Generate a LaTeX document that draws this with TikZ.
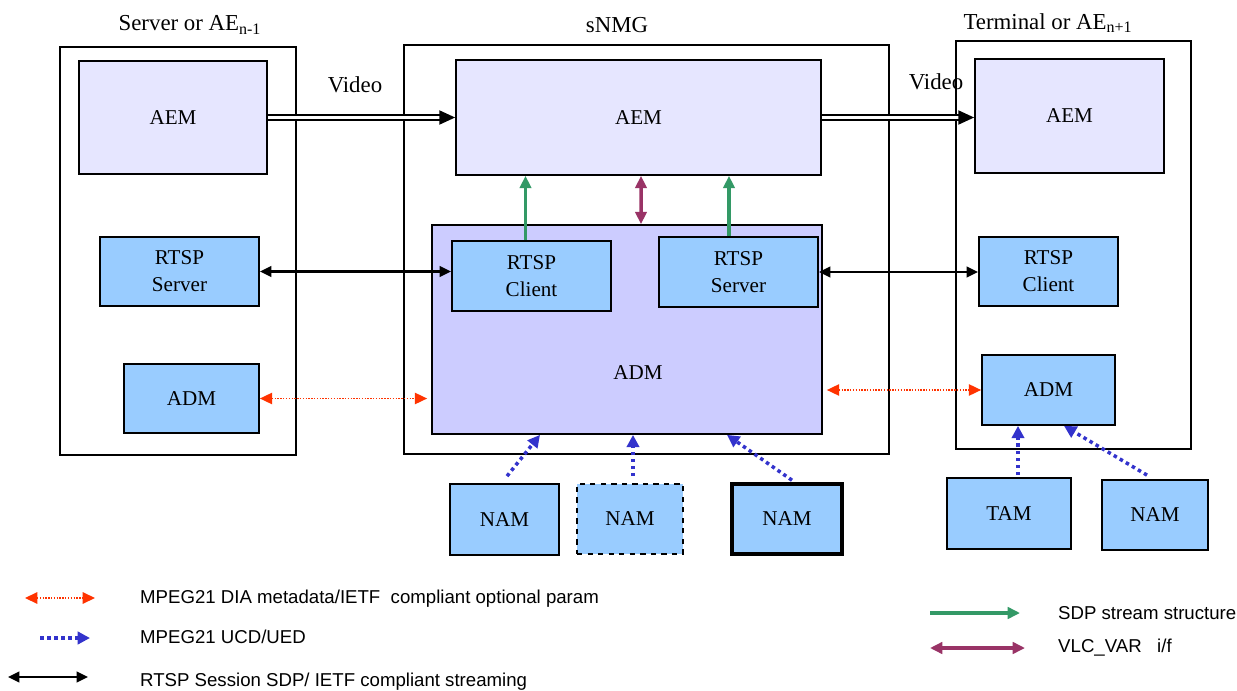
\documentclass[tikz,border=0pt]{standalone}
\usepackage{fontspec}
\setmainfont{Liberation Serif}
\setsansfont{Liberation Sans}
\usetikzlibrary{arrows.meta,calc}

\definecolor{aemfill}{RGB}{230,230,255}
\definecolor{admfill}{RGB}{204,204,255}
\definecolor{boxblue}{RGB}{153,204,255}
\definecolor{sdpgreen}{RGB}{51,153,102}
\definecolor{vlcpurple}{RGB}{153,51,102}
\definecolor{diared}{RGB}{255,51,0}
\definecolor{ucdblue}{RGB}{51,51,204}

\begin{document}
\begin{tikzpicture}[x=0.2mm, y=-0.2mm, font=\fontsize{12}{15.5}\selectfont,
  entity/.style={draw, line width=0.8pt, inner sep=0pt},
  title/.style={font=\fontsize{13}{15}\selectfont},
  aem/.style={draw, line width=1pt, fill=aemfill, inner sep=0pt, align=center},
  blk/.style={draw, line width=1pt, fill=boxblue, inner sep=0pt, align=center},
  video/.style={double, double distance=1.6pt, line width=1pt, -{Triangle[length=9pt,width=8pt]}},
  rtsp/.style={line width=1.3pt, {Triangle[length=6.5pt,width=6pt]}-{Triangle[length=6.5pt,width=6pt]}},
  dia/.style={diared, line width=0.8pt, dash pattern=on 0.8pt off 0.8pt, {Triangle[length=7pt,width=6.5pt]}-{Triangle[length=7pt,width=6.5pt]}},
  ucd/.style={ucdblue, line width=2pt, dash pattern=on 2pt off 2pt, -{Triangle[length=7pt,width=7pt]}},
  sdp/.style={sdpgreen, line width=1.8pt, -{Triangle[length=7pt,width=6.5pt]}},
  vlc/.style={vlcpurple, line width=2pt, {Triangle[length=7pt,width=6.5pt]}-{Triangle[length=7pt,width=6.5pt]}},
  legend/.style={anchor=west, font=\sffamily\fontsize{10.6}{12}\selectfont}]

  \useasboundingbox (0,0) rectangle (1237,691);

  % the three entities
  \node[entity, minimum width=47.2mm, minimum height=81.6mm] (srvBox) at (178,251) {};
  \node[entity, minimum width=97mm, minimum height=81.8mm] (nmgBox) at (646.5,249.5) {};
  \node[entity, minimum width=47mm, minimum height=81.6mm] (termBox) at (1073.5,245) {};

  \node[title] (srvTitle) at (190,25) {Server or AE\textsubscript{n-1}};
  \node[title] (nmgTitle) at (617,25) {sNMG};
  \node[title] (termTitle) at (1048,23) {Terminal or AE\textsubscript{n+1}};

  % server side
  \node[aem, minimum width=37.6mm, minimum height=22.6mm] (srvAEM) at (173,117.5) {AEM};
  \node[blk, minimum width=31.8mm, minimum height=13.8mm] (srvRTSP) at (179.5,271.5) {RTSP\\Server};
  \node[blk, minimum width=27mm, minimum height=13.8mm] (srvADM) at (191.5,398.5) {ADM};

  % sNMG
  \node[aem, minimum width=73mm, minimum height=23mm] (nmgAEM) at (638.5,117.5) {AEM};
  \node[draw, line width=1pt, fill=admfill, minimum width=78mm, minimum height=41.8mm] (nmgADM) at (627,329.5) {};
  \node (nmgADMText) at (638,373) {ADM};
  \node[blk, minimum width=31.8mm, minimum height=14mm] (nmgClient) at (531.5,276) {RTSP\\Client};
  \node[blk, minimum width=31.8mm, minimum height=14mm] (nmgServer) at (738.5,272) {RTSP\\Server};

  % terminal side
  \node[aem, minimum width=37.8mm, minimum height=22.8mm] (termAEM) at (1069.5,116) {AEM};
  \node[blk, minimum width=27.8mm, minimum height=13.8mm] (termClient) at (1048.5,271.5) {RTSP\\Client};
  \node[blk, minimum width=26.6mm, minimum height=14mm] (termADM) at (1048.5,390) {ADM};

  % adaptation modules below
  \node[blk, minimum width=21.8mm, minimum height=14.2mm] (namA) at (504.5,519.5) {NAM};
  \node[blk, dashed, minimum width=21.2mm, minimum height=14mm] (namB) at (630,519) {NAM};
  \node[blk, line width=2pt, minimum width=22mm, minimum height=14mm] (namC) at (787,519) {NAM};
  \node[blk, minimum width=24.8mm, minimum height=14.2mm] (tam) at (1009,513.5) {TAM};
  \node[blk, minimum width=21.2mm, minimum height=14mm] (namT) at (1155,515) {NAM};

  % video streams
  \draw[video] (srvAEM) -- (nmgAEM);
  \draw[video] (nmgAEM.east) -- (nmgAEM.east -| termAEM.west);
  \node[title] (videoL) at (355,85) {Video};
  \node[title] (videoR) at (936,82) {Video};

  % RTSP sessions
  \draw[rtsp] (srvRTSP.east) -- (srvRTSP.east -| nmgClient.west);
  \draw[rtsp] (nmgServer.east) -- (nmgServer.east -| termClient.west);

  % DIA metadata
  \draw[dia] (srvADM.east) -- ($(srvADM.east -| nmgADM.west)+(-4,0)$);
  \draw[dia] ($(termADM.west -| nmgADM.east)+(4,0)$) -- (termADM.west);

  % SDP and VLC_VAR inside sNMG
  \draw[sdp] ($(nmgClient.north)+(-6,0)$) -- ($(nmgClient.north |- nmgAEM.south)+(-6,0)$);
  \draw[sdp] ($(nmgServer.north)+(-9.5,0)$) -- ($(nmgServer.north |- nmgAEM.south)+(-9.5,0)$);
  \draw[vlc] ($(nmgAEM.south)+(2.5,0)$) -- ($(nmgADM.north)+(14,0)$);

  % UCD/UED
  \draw[ucd] ($(namA.north)+(2.5,-7)$) -- ($(nmgADM.south)+(-87,0)$);
  \draw[ucd] ($(namB.north)+(3,-7)$) -- ($(nmgADM.south)+(6,0)$);
  \draw[ucd] ($(namC.north)+(5,-2)$) -- ($(nmgADM.south)+(100,0)$);
  \draw[ucd] ($(tam.north)+(9,-2)$) -- ($(termADM.south)+(-30.5,0)$);
  \draw[ucd] ($(namT.north)+(-8,-4)$) -- ($(termADM.south)+(15.5,0)$);

  % legend
  \coordinate (legDiaA) at (25,598);
  \coordinate (legDiaB) at (95,598);
  \coordinate (legUcdA) at (40,638);
  \coordinate (legUcdB) at (90,638);
  \coordinate (legRtspA) at (8,677);
  \coordinate (legRtspB) at (88,677);
  \coordinate (legSdpA) at (930,613);
  \coordinate (legSdpB) at (1020,613);
  \coordinate (legVlcA) at (930,648);
  \coordinate (legVlcB) at (1025,648);

  \draw[dia] (legDiaA) -- (legDiaB);
  \draw[ucd] (legUcdA) -- (legUcdB);
  \draw[rtsp] (legRtspA) -- (legRtspB);
  \draw[sdp] (legSdpA) -- (legSdpB);
  \draw[vlc] (legVlcA) -- (legVlcB);

  \node[legend] (legDia) at (134,599) {MPEG21 DIA metadata/IETF\ \ compliant optional param};
  \node[legend] (legUcd) at (134,637) {MPEG21 UCD/UED};
  \node[legend] (legRtsp) at (134,682) {RTSP Session SDP/ IETF compliant streaming};
  \node[legend] (legSdp) at (1052,613) {SDP stream structure};
  \node[legend] (legVlc) at (1052,648) {VLC\_VAR\ \ \ i/f};

\end{tikzpicture}
\end{document}
